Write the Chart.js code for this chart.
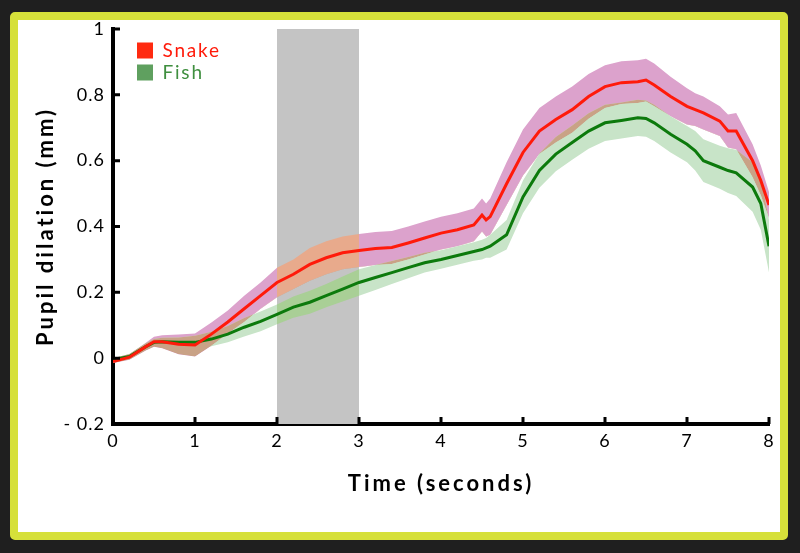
<!DOCTYPE html>
<html>
<head>
<meta charset="utf-8">
<script src="https://cdn.jsdelivr.net/npm/chart.js@4.4.1/dist/chart.umd.min.js"></script>
<style>
  html, body { margin: 0; padding: 0; background: #1f1f1f; }
  #frame {
    position: absolute; left: 10px; top: 12px; width: 778px; height: 528px;
    box-sizing: border-box; border: 8px solid #d6e03a; border-radius: 5px; background: #fff;
  }
  #wrap { position: absolute; left: 0; top: 0; width: 762px; height: 512px; }
</style>
</head>
<body>
<div id="frame"><div id="wrap"><canvas id="chart"></canvas></div></div>
<script>
// time points (seconds)
const times = [0, 0.2, 0.4, 0.5, 0.6, 0.8, 1, 1.2, 1.4, 1.6, 1.8, 2, 2.2, 2.4, 2.6, 2.8,
  3, 3.2, 3.4, 3.6, 3.8, 4, 4.2, 4.4, 4.5, 4.55, 4.6, 4.8, 5, 5.2, 5.4, 5.6, 5.8,
  6, 6.2, 6.4, 6.5, 6.6, 6.8, 7, 7.1, 7.2, 7.4, 7.5, 7.6, 7.8, 7.9, 8];

// pupil dilation (mm), mean and error half-width
const snakeMean = [-0.01, 0.003, 0.035, 0.05, 0.05, 0.042, 0.04, 0.073, 0.11, 0.15, 0.19,
  0.23, 0.255, 0.285, 0.305, 0.32, 0.327, 0.333, 0.336, 0.35, 0.365,
  0.38, 0.39, 0.405, 0.435, 0.42, 0.43, 0.53, 0.625, 0.69, 0.725, 0.755, 0.795,
  0.825, 0.837, 0.84, 0.845, 0.83, 0.795, 0.765, 0.755, 0.745, 0.72, 0.69, 0.69, 0.60, 0.54, 0.465];
const snakeErr = [0.005, 0.008, 0.012, 0.015, 0.02, 0.03, 0.035, 0.035, 0.035, 0.04, 0.04,
  0.045, 0.045, 0.05, 0.05, 0.05, 0.05, 0.05, 0.05, 0.05, 0.05,
  0.05, 0.05, 0.05, 0.05, 0.05, 0.055, 0.065, 0.07, 0.07, 0.07, 0.07, 0.068,
  0.065, 0.065, 0.065, 0.065, 0.065, 0.06, 0.055, 0.05, 0.05, 0.045, 0.05, 0.055, 0.05, 0.045, 0.04];
const fishMean = [-0.005, 0.005, 0.035, 0.048, 0.05, 0.048, 0.048, 0.058, 0.073, 0.094, 0.112,
  0.133, 0.155, 0.17, 0.19, 0.21, 0.23, 0.245, 0.26, 0.275, 0.29,
  0.30, 0.312, 0.324, 0.33, 0.335, 0.34, 0.375, 0.49, 0.57, 0.62, 0.655, 0.69,
  0.715, 0.722, 0.73, 0.728, 0.715, 0.68, 0.65, 0.63, 0.60, 0.58, 0.57, 0.563, 0.52, 0.47, 0.34];
const fishErr = [0.005, 0.008, 0.01, 0.01, 0.012, 0.015, 0.02, 0.022, 0.025, 0.028, 0.03,
  0.03, 0.032, 0.035, 0.035, 0.038, 0.04, 0.038, 0.035, 0.032, 0.03,
  0.028, 0.028, 0.028, 0.03, 0.03, 0.035, 0.045, 0.05, 0.052, 0.052, 0.052, 0.054,
  0.055, 0.055, 0.055, 0.055, 0.055, 0.055, 0.055, 0.06, 0.065, 0.065, 0.068, 0.07, 0.075, 0.08, 0.08];

// stimulus window
const shadeTimes = [2, 3];

const xTickLabels = ["0", "1", "2", "3", "4", "5", "6", "7", "8"];
const yTickLabels = ["- 0.2", "0", "0.2", "0.4", "0.6", "0.8", "1"];
const legendNames = ["Snake", "Fish"];

const Y_MIN = -0.2, Y_MAX = 1;

const pts = (vals) => times.map((t, i) => ({ x: t, y: vals[i] }));
const band = (mean, err, sign) => times.map((t, i) => ({ x: t, y: mean[i] + sign * err[i] }));
const inShade = (c) => c.p0.parsed.x >= shadeTimes[0] && c.p1.parsed.x <= shadeTimes[1];

const hidden = { borderColor: "rgba(0,0,0,0)", borderWidth: 0, pointRadius: 0 };

// draw tick marks pointing into the plot
const innerTicks = {
  id: "innerTicks",
  afterDraw(chart) {
    const { ctx, scales: { x, y } } = chart;
    ctx.save();
    ctx.strokeStyle = "#000";
    ctx.lineWidth = 3;
    ctx.beginPath();
    x.ticks.forEach((t) => {
      if (t.value === x.min) return;
      const px = x.getPixelForValue(t.value);
      ctx.moveTo(px, y.bottom);
      ctx.lineTo(px, y.bottom - 7);
    });
    y.ticks.forEach((t) => {
      if (t.value === y.min) return;
      const py = y.getPixelForValue(t.value);
      ctx.moveTo(x.left, py);
      ctx.lineTo(x.left + 7, py);
    });
    ctx.stroke();
    ctx.restore();
  },
};

// wrap a draw method so its text gets its own letter spacing
function spaced(chart, obj, name, amount) {
  if (obj["_sp_" + name]) return;
  const orig = obj[name].bind(obj);
  obj[name] = function (...args) {
    const c = chart.ctx;
    c.save();
    c.letterSpacing = amount;
    orig(...args);
    c.restore();
  };
  obj["_sp_" + name] = true;
}

// letter spacing, and the legend nudged inside the plot
const spacing = {
  id: "spacing",
  beforeLayout(chart) { chart.ctx.letterSpacing = "1px"; },
  afterLayout(chart) {
    const lg = chart.legend, ca = chart.chartArea;
    const w = lg.width, h = lg.height;
    lg.left = ca.left + 21; lg.top = ca.top + 9;
    lg.right = lg.left + w; lg.bottom = lg.top + h;
  },
  beforeDraw(chart) {
    chart.ctx.letterSpacing = "1px";
    Object.values(chart.scales).forEach((s) => spaced(chart, s, "drawTitle", "3px"));
    spaced(chart, chart.legend, "draw", "1.8px");
  },
};

new Chart(document.querySelector("#chart"), {
  type: "line",
  data: {
    datasets: [
      { // 0
        label: "Snake", data: pts(snakeMean), borderColor: "#ff1a0a", borderWidth: 3,
        pointRadius: 0, fill: false, order: 0,
      },
      { // 1
        label: "Fish", data: pts(fishMean), borderColor: "#0c7a0c", borderWidth: 3,
        pointRadius: 0, fill: false, order: 1,
      },
      { // 2 overlap of the two bands
        label: "overlap", data: band(fishMean, fishErr, 1), ...hidden,
        fill: { target: 4, above: "#c9a286", below: "rgba(0,0,0,0)" }, order: 2,
      },
      { // 3
        label: "snakeHigh", data: band(snakeMean, snakeErr, 1), ...hidden,
        backgroundColor: "#dca2cc", fill: 4, order: 5,
        segment: { backgroundColor: (c) => (inShade(c) ? "#e8aa8c" : undefined) },
      },
      { // 4
        label: "snakeLow", data: band(snakeMean, snakeErr, -1), ...hidden, fill: false, order: 6,
      },
      { // 5
        label: "fishHigh", data: band(fishMean, fishErr, 1), ...hidden,
        backgroundColor: "#c8e4c8", fill: 6, order: 3,
        segment: { backgroundColor: (c) => (inShade(c) ? "#a9cf96" : undefined) },
      },
      { // 6
        label: "fishLow", data: band(fishMean, fishErr, -1), ...hidden, fill: false, order: 4,
      },
      { // 7 grey stimulus window
        label: "shade", data: shadeTimes.map((t) => ({ x: t, y: Y_MAX })), ...hidden,
        backgroundColor: "#c4c4c4", fill: "start", order: 7,
      },
    ],
  },
  options: {
    responsive: true,
    maintainAspectRatio: false,
    animation: false,
    layout: { padding: { top: 9, right: 11, left: 0, bottom: 0 } },
    plugins: {
      tooltip: { enabled: false },
      legend: {
        position: "chartArea",
        align: "start",
        labels: {
          boxWidth: 16,
          boxHeight: 16,
          padding: 3,
          font: { family: "Lato", size: 19 },
          generateLabels: () => [
            { text: legendNames[0], fillStyle: "#ff2a10", strokeStyle: "#ff2a10", lineWidth: 0, fontColor: "#ff1a0a", datasetIndex: 0, hidden: false },
            { text: legendNames[1], fillStyle: "#5fa05f", strokeStyle: "#5fa05f", lineWidth: 0, fontColor: "#3f8f3f", datasetIndex: 1, hidden: false },
          ],
        },
      },
    },
    scales: {
      x: {
        type: "linear",
        min: 0,
        max: 8,
        afterFit: (s) => { s.height = 108; s.paddingLeft = 0; s.paddingRight = 0; },
        grid: { display: false, drawTicks: false },
        border: { color: "#000", width: 4 },
        ticks: {
          stepSize: 1,
          padding: 8,
          color: "#000",
          font: { family: "Lato", size: 18, lineHeight: 1 },
          callback: (v, i) => xTickLabels[i],
        },
        title: {
          display: true,
          text: "Time (seconds)",
          color: "#000",
          font: { family: "Lato", size: 22, weight: "bold" },
          padding: { top: 0, bottom: 35 },
        },
      },
      y: {
        min: Y_MIN,
        max: Y_MAX,
        afterFit: (s) => { s.width = 95; s.paddingTop = 0; s.paddingBottom = 0; },
        grid: { display: false, drawTicks: false },
        border: { color: "#000", width: 4 },
        ticks: {
          stepSize: 0.2,
          padding: 8,
          color: "#000",
          font: { family: "Lato", size: 18, lineHeight: 1 },
          callback: (v, i) => yTickLabels[i],
        },
        title: {
          display: true,
          text: "Pupil dilation (mm)",
          color: "#000",
          font: { family: "Lato", size: 22, weight: "bold" },
          padding: { top: 15, bottom: 0 },
        },
      },
    },
  },
  plugins: [spacing, innerTicks],
});
</script>
</body>
</html>
